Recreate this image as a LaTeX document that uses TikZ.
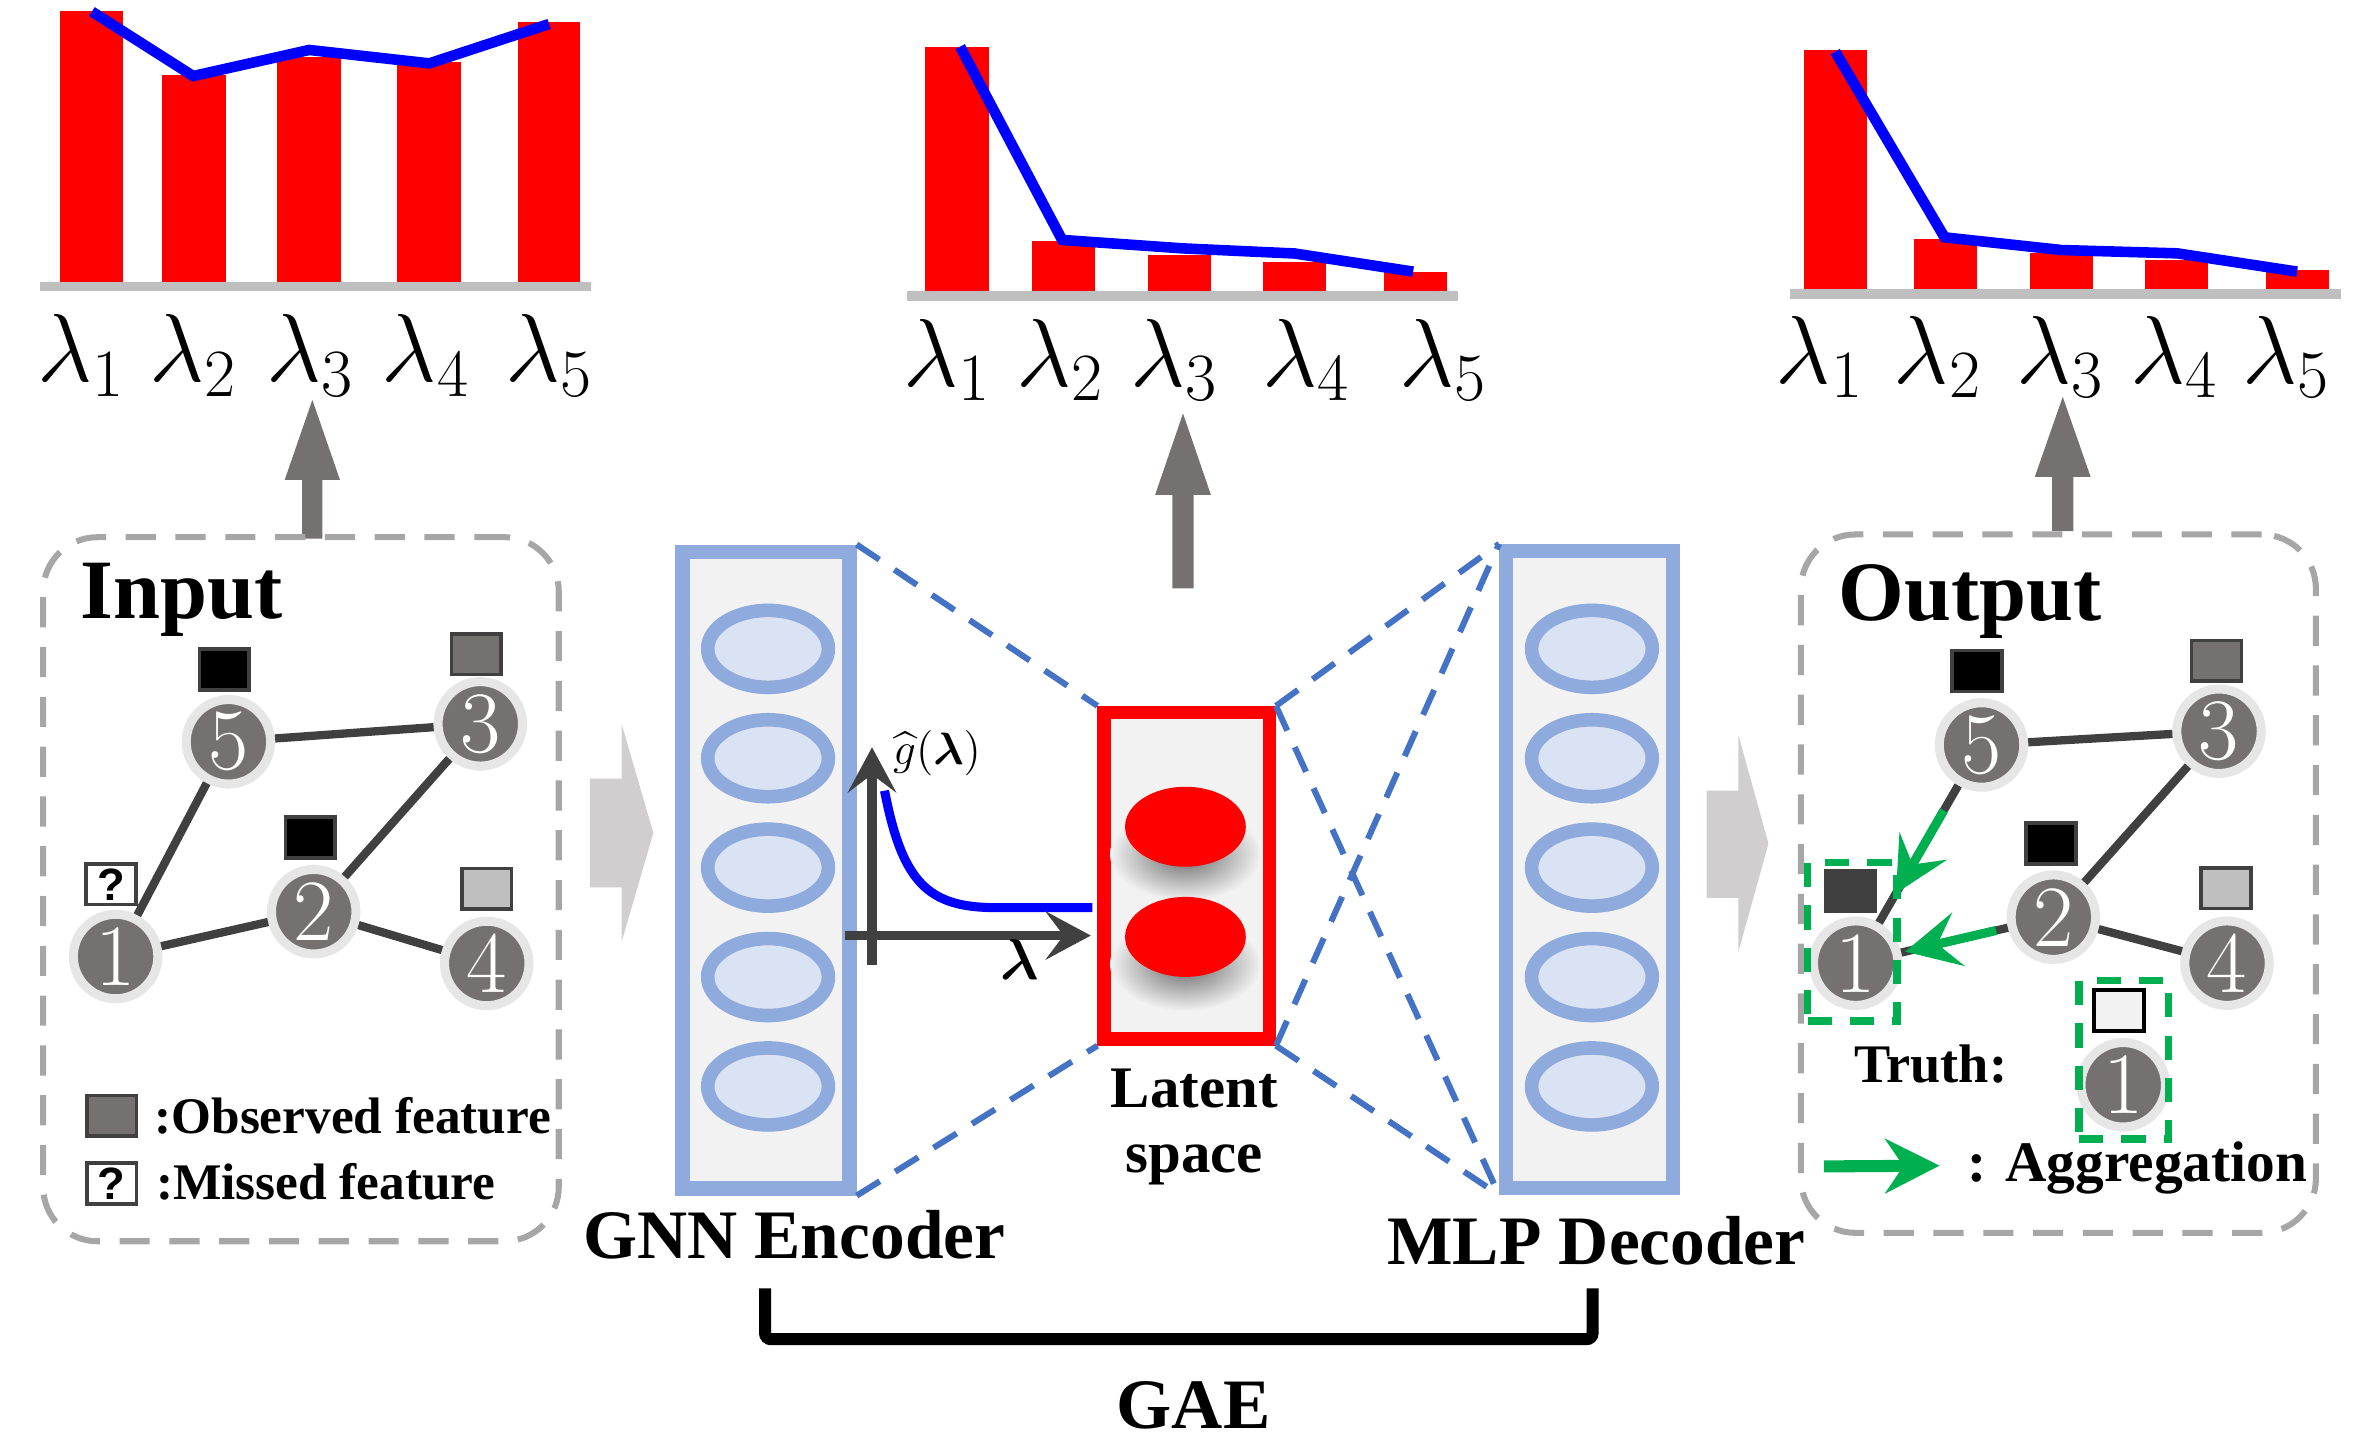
\RequirePackage{fix-cm}
\documentclass[tikz,border=0pt]{standalone}
\usepackage{amsmath}
\usepackage{fontspec}
\newfontfamily\lsb{Liberation Serif}
\newfontfamily\lss{Liberation Sans}
\usetikzlibrary{arrows.meta,calc,shapes.geometric}
\definecolor{cRed}{HTML}{FF0000}
\definecolor{cBlue}{HTML}{0000FF}
\definecolor{cBase}{HTML}{BFBFBF}
\definecolor{cArr}{HTML}{767171}
\definecolor{cChev}{HTML}{D0CECE}
\definecolor{cDash}{HTML}{A6A6A6}
\definecolor{cNode}{HTML}{767171}
\definecolor{cHalo}{HTML}{E7E6E6}
\definecolor{cEdge}{HTML}{404040}
\definecolor{cEncS}{HTML}{8FAADC}
\definecolor{cEncF}{HTML}{F2F2F2}
\definecolor{cEll}{HTML}{DAE3F3}
\definecolor{cCon}{HTML}{4472C4}
\definecolor{cGreen}{HTML}{00B050}
\definecolor{cLight}{HTML}{BFBFBF}
\newcommand\fsz[1]{\fontsize{#1}{#1}\selectfont}
\begin{document}
\begin{tikzpicture}[x=0.5pt,y=-0.5pt,
  gnode/.style={circle,minimum size=28pt,inner sep=0pt,outer sep=1.5pt,fill=cNode,draw=cHalo,line width=3pt,text=white,font=\fsz{29pt}},
  feat/.style={rectangle,minimum width=16.5pt,minimum height=13.5pt,inner sep=0pt,draw=cEdge,line width=1.2pt},
  qbox/.style={feat,fill=white,font=\lss\bfseries\fsz{15pt}},
  gedge/.style={draw=cEdge,line width=2.75pt},
  graybox/.style={rectangle,draw=cDash,line width=2pt,dash pattern=on 10pt off 6.5pt,rounded corners=18pt,inner sep=0pt},
  greenbox/.style={rectangle,draw=cGreen,line width=2.5pt,dash pattern=on 8pt off 6pt,inner sep=0pt,minimum width=29.65pt,minimum height=52.55pt},
  layerbox/.style={rectangle,draw=cEncS,fill=cEncF,line width=4.75pt,minimum width=55.3pt,minimum height=211pt,inner sep=0pt},
  neuron/.style={ellipse,draw=cEncS,fill=cEll,line width=4.5pt,minimum width=40pt,minimum height=25.5pt,inner sep=0pt},
  conn/.style={draw=cCon,line width=2pt,dash pattern=on 9pt off 6pt},
  garrow/.style={draw=cGreen,line width=3pt,-{Stealth[length=18pt,width=18pt,inset=7pt]}},
  axisarrow/.style={draw=cEdge,line width=3pt,-{Stealth[length=15pt,width=16pt,inset=6pt]}},
  lam/.style={anchor=base,inner sep=0pt,font=\fsz{32pt}},
]
\useasboundingbox (0,0) rectangle (1568,958);

% ---------- chart 1 ----------
\fill[cRed] (39.8,187) rectangle (81.2,7.5);
\fill[cRed] (107.3,187) rectangle (149.6,49.9);
\fill[cRed] (183.6,187) rectangle (225.7,37.6);
\fill[cRed] (263,187) rectangle (305.3,41.1);
\fill[cRed] (343.4,187) rectangle (384.7,14.6);
\draw[cBase,line width=3pt] (26.6,189.6) -- (391.8,189.6);
\draw[cBlue,line width=3.5pt] (60.9,7.7) -- (128,50.4) -- (204.9,33.1) -- (284.5,42) -- (363.9,15.9);
\foreach \x/\i in {53.9/1,128/2,205.4/3,282.2/4,363.9/5}
  \node[lam] (a\i) at (\x,253) {$\lambda_{\i}$};

% ---------- chart 2 ----------
\fill[cRed] (613.3,193) rectangle (655.2,31.4);
\fill[cRed] (683.6,193) rectangle (725.5,159.7);
\fill[cRed] (761,193) rectangle (802.6,169);
\fill[cRed] (837,193) rectangle (879,173.4);
\fill[cRed] (917.3,193) rectangle (959,180.5);
\draw[cBase,line width=3.25pt] (601,196.2) -- (966,196.2);
\draw[cBlue,line width=3.5pt] (636.3,30.9) -- (703.9,159) -- (783.7,164.6) -- (858,168) -- (936.5,180);
\foreach \x/\i in {627.5/1,702.6/2,778.4/3,865.5/4,956.2/5}
  \node[lam] (b\i) at (\x,256) {$\lambda_{\i}$};

% ---------- chart 3 ----------
\fill[cRed] (1195.8,192) rectangle (1237.2,33.1);
\fill[cRed] (1268.2,192) rectangle (1310.5,158.4);
\fill[cRed] (1345.3,192) rectangle (1387.1,167.9);
\fill[cRed] (1421.4,192) rectangle (1463.1,172.3);
\fill[cRed] (1501.5,192) rectangle (1543.3,178.9);
\draw[cBase,line width=3.25pt] (1186.3,194.9) -- (1551.2,194.9);
\draw[cBlue,line width=3.5pt] (1216.2,34.2) -- (1288.7,157.3) -- (1366.1,165.7) -- (1442.9,167.9) -- (1522.3,180);
\foreach \x/\i in {1206/1,1284.2/2,1365.2/3,1440.7/4,1515.2/5}
  \node[lam] (c\i) at (\x,254) {$\lambda_{\i}$};

% ---------- up arrows ----------
\fill[cArr] (200.3,357) -- (213.7,357) -- (213.7,318) -- (225.3,318) -- (207,265) -- (188.7,318) -- (200.3,318) -- cycle;
\fill[cArr] (777,390) -- (791,390) -- (791,328) -- (802.5,328) -- (784,274) -- (765.5,328) -- (777,328) -- cycle;
\fill[cArr] (1360,352) -- (1374,352) -- (1374,316) -- (1385.5,316) -- (1367,263) -- (1348.5,316) -- (1360,316) -- cycle;

% ---------- input box ----------
\node[graybox,minimum width=170.85pt,minimum height=233.3pt] (inbox) at (199.45,589.3) {};
\node[anchor=base west,inner sep=0pt,font=\lsb\bfseries\fsz{28pt}] (tin) at (53,410) {Input};
\node[gnode] (i5) at (151.4,491.6) {5};
\node[gnode] (i3) at (318.3,479.7) {3};
\node[gnode] (i2) at (207.9,604.2) {2};
\node[gnode] (i1) at (76.6,633.9) {1};
\node[gnode] (i4) at (322.6,638.5) {4};
\draw[gedge] (i5) -- (i3);
\draw[gedge] (i5) -- (i1);
\draw[gedge] (i1) -- (i2);
\draw[gedge] (i2) -- (i3);
\draw[gedge] (i2) -- (i4);
\node[feat,fill=black] (s5) at (148.6,443.7) {};
\node[feat,fill=cNode] (s3) at (315.7,433.6) {};
\node[feat,fill=black] (s2) at (205.6,555) {};
\node[qbox] (s1) at (73.5,586) {?};
\node[feat,fill=cLight] (s4) at (322.5,589) {};
\node[feat,fill=cNode] (lg1) at (74,739.4) {};
\node[qbox] (lg2) at (74,784.2) {?};
\node[anchor=base west,inner sep=0pt,font=\lsb\bfseries\fsz{17pt}] (lgt1) at (102,751) {:Observed feature};
\node[anchor=base west,inner sep=0pt,font=\lsb\bfseries\fsz{17pt}] (lgt2) at (103,795) {:Missed feature};

% ---------- chevrons ----------
\fill[cChev] (391,516) -- (412,516) -- (412,480) -- (433,552) -- (412,624) -- (412,588) -- (391,588) -- cycle;
\fill[cChev] (1131,524) -- (1152,524) -- (1152,487) -- (1172,559) -- (1152,631) -- (1152,595) -- (1131,595) -- cycle;

% ---------- encoder ----------
\node[layerbox] (enc) at (507.7,576.6) {};
\foreach \y [count=\i] in {430,502.5,575,647.5,720}
  \node[neuron] (en\i) at (509,\y) {};
\node[anchor=base west,inner sep=0pt,font=\lsb\bfseries\fsz{23pt}] (tenc) at (386,834) {GNN Encoder};

% ---------- decoder ----------
\node[layerbox] (dec) at (1053.5,576.2) {};
\foreach \y [count=\i] in {430,502.5,575,647.5,720}
  \node[neuron] (dn\i) at (1055,\y) {};
\node[anchor=base west,inner sep=0pt,font=\lsb\bfseries\fsz{23pt}] (tdec) at (919,838) {MLP Decoder};

% ---------- latent ----------
\node[rectangle,draw=cRed,fill=cEncF,line width=4.45pt,minimum width=54.7pt,minimum height=108.15pt,inner sep=0pt] (lat) at (786.45,580.4) {};
\shade[inner color=black!60,outer color=cEncF] (785.6,566) ellipse (50 and 31);
\shade[inner color=black!60,outer color=cEncF] (785.6,639) ellipse (50 and 31);
\node[ellipse,fill=cRed,minimum width=40pt,minimum height=26.5pt,inner sep=0pt] (z1) at (785.6,547.9) {};
\node[ellipse,fill=cRed,minimum width=40pt,minimum height=26.5pt,inner sep=0pt] (z2) at (785.6,620.9) {};
\node[anchor=base,inner sep=0pt,font=\lsb\bfseries\fsz{19.5pt}] (tlat1) at (791.5,734) {Latent};
\node[anchor=base,inner sep=0pt,font=\lsb\bfseries\fsz{19.5pt}] (tlat2) at (791.5,777) {space};

% dashed connectors
\draw[conn] (enc.north east) -- (lat.north west);
\draw[conn] (enc.south east) -- (lat.south west);
\draw[conn] (lat.north east) -- (dec.north west);
\draw[conn] (lat.north east) -- (dec.south west);
\draw[conn] (lat.south east) -- (dec.north west);
\draw[conn] (lat.south east) -- (dec.south west);

% ---------- filter plot ----------
\draw[cBlue,line width=3pt] (586.2,524) .. controls (598,585) and (615,601.5) .. (660,601.5) -- (724,601.5);
\draw[axisarrow] (577.9,639.8) -- (577.9,495.2);
\draw[axisarrow] (560.2,620) -- (722.9,620);
\node[inner sep=0pt,font=\fsz{15pt}] (glab) at (621,499) {$\widehat{g}(\boldsymbol{\lambda})$};
\node[inner sep=0pt,font=\fsz{19pt}] (llab) at (676,636) {$\boldsymbol{\lambda}$};

% ---------- GAE bracket ----------
\coordinate (brA) at (507,853.8);
\coordinate (brB) at (1055.4,853.8);
\draw[line width=4pt,rounded corners=2pt] (brA) -- (507,887.5) -- (1055.4,887.5) -- (brB);
\node[anchor=base,inner sep=0pt,font=\lsb\bfseries\fsz{23.5pt}] (tgae) at (791,947) {GAE};

% ---------- output box ----------
\node[graybox,minimum width=170.65pt,minimum height=231.4pt] (outbox) at (1364.15,585.6) {};
\node[anchor=base west,inner sep=0pt,font=\lsb\bfseries\fsz{28pt}] (tout) at (1218,411) {Output};
\node[gnode] (o5) at (1313.2,493.7) {5};
\node[gnode] (o3) at (1470.6,484.6) {3};
\node[gnode] (o2) at (1360.8,607.8) {2};
\node[gnode] (o1) at (1229.8,638.3) {1};
\node[gnode] (o4) at (1475.9,638.3) {4};
\node[gnode] (ot) at (1407.1,718.9) {1};
\draw[gedge] (o5) -- (o3);
\draw[gedge] (o5) -- (o1);
\draw[gedge] (o1) -- (o2);
\draw[gedge] (o2) -- (o3);
\draw[gedge] (o2) -- (o4);
\draw[garrow] ($(o5)!0.3!(o1)$) -- ($(o5)!0.68!(o1)$);
\draw[garrow] ($(o2)!0.29!(o1)$) -- ($(o2)!0.75!(o1)$);
\node[feat,fill=black] (t5) at (1310.2,444.7) {};
\node[feat,fill=cNode] (t3) at (1468.9,438) {};
\node[feat,fill=black] (t2) at (1359.1,559.1) {};
\node[feat,fill=cEdge] (t1) at (1226.5,590.3) {};
\node[feat,fill=cLight] (t4) at (1475.1,588.6) {};
\node[feat,fill=cEncF,draw=black] (tt) at (1404.2,669.7) {};
\node[greenbox] (gb1) at (1227.55,624.25) {};
\node[greenbox] (gb2) at (1407.55,702.45) {};
\node[anchor=base west,inner sep=0pt,font=\lsb\bfseries\fsz{18pt}] (ttruth) at (1228.5,717.4) {Truth:};
\coordinate (agA) at (1208.7,773);
\coordinate (agB) at (1285.4,772.5);
\draw[draw=cGreen,line width=4pt,-{Stealth[length=18pt,width=18pt,inset=6pt]}] (agA) -- (agB);
\node[anchor=base west,inner sep=0pt,font=\lsb\bfseries\fsz{19pt}] (tagg) at (1303.4,782.8) {: Aggregation};
\end{tikzpicture}
\end{document}
